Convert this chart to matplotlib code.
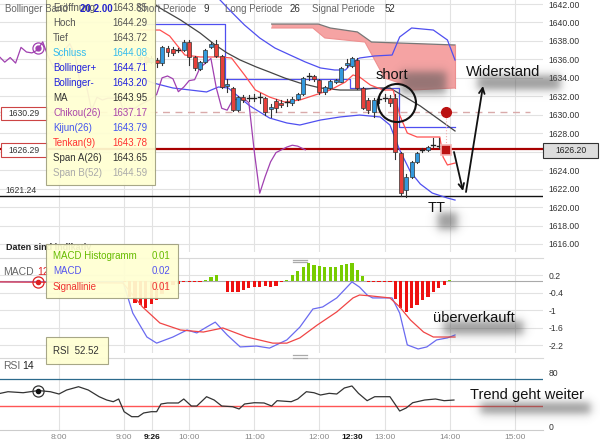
import numpy as np
import matplotlib
matplotlib.use("Agg")
import matplotlib.pyplot as plt
from matplotlib.patches import Rectangle, Ellipse, FancyArrowPatch

plt.rcParams['font.family'] = ['Liberation Sans', 'DejaVu Sans']

# ---------------- data ----------------
bar_times = ["9:15", "9:20", "9:25", "9:30", "9:35", "9:40", "9:45", "9:50", "9:55",
             "10:00", "10:05", "10:10", "10:15", "10:20", "10:25", "10:30", "10:35", "10:40", "10:45", "10:50", "10:55",
             "11:00", "11:05", "11:10", "11:15", "11:20", "11:25", "11:30", "11:35", "11:40", "11:45", "11:50", "11:55",
             "12:00", "12:05", "12:10", "12:15", "12:20", "12:25", "12:30", "12:35", "12:40", "12:45", "12:50", "12:55",
             "13:00", "13:05", "13:10", "13:15", "13:20", "13:25", "13:30", "13:35", "13:40", "13:45", "13:50"]
opens = [1636.0, 1636.3, 1635.7, 1635.9, 1635.6, 1637.2, 1637.1, 1636.9, 1637.0,
         1637.9, 1636.3, 1635.0, 1635.7, 1637.3, 1637.7, 1636.4, 1633.1, 1632.9, 1630.5, 1631.9, 1631.7,
         1631.8, 1631.8, 1631.8, 1630.6, 1631.5, 1631.3, 1631.3, 1631.3, 1631.7, 1632.2, 1634.1, 1634.2,
         1633.8, 1632.5, 1632.9, 1633.5, 1633.6, 1635.4, 1635.3, 1635.9, 1632.9, 1631.6, 1630.3, 1631.6,
         1631.7, 1631.8, 1631.8, 1625.9, 1621.8, 1623.3, 1624.9, 1626.1, 1626.2, 1626.6, 1626.6]
highs = [1636.6, 1636.4, 1636.4, 1636.1, 1637.5, 1637.5, 1637.3, 1637.2, 1638.1,
         1638.1, 1636.4, 1635.8, 1637.1, 1637.9, 1638.1, 1636.5, 1633.9, 1633.0, 1632.0, 1632.1, 1632.1,
         1632.3, 1632.4, 1631.9, 1631.2, 1631.7, 1631.6, 1631.7, 1631.9, 1632.4, 1634.1, 1634.5, 1634.3,
         1633.9, 1633.1, 1633.8, 1633.9, 1635.2, 1636.0, 1636.3, 1636.1, 1633.0, 1631.8, 1631.8, 1632.0,
         1632.3, 1632.1, 1632.3, 1626.0, 1623.6, 1625.0, 1626.0, 1626.4, 1626.6, 1627.5, 1627.5]
lows = [1635.8, 1635.5, 1635.6, 1635.2, 1635.4, 1636.4, 1636.5, 1636.8, 1636.9,
        1635.4, 1634.9, 1634.9, 1635.6, 1637.2, 1636.3, 1632.9, 1632.5, 1630.4, 1630.4, 1631.4, 1631.5,
        1631.5, 1631.3, 1630.0, 1629.8, 1630.3, 1630.8, 1630.9, 1631.1, 1631.6, 1632.1, 1633.8, 1633.7,
        1632.3, 1632.3, 1632.8, 1633.4, 1633.5, 1635.2, 1635.2, 1632.8, 1630.6, 1630.2, 1629.8, 1631.3,
        1631.5, 1631.0, 1625.2, 1621.2, 1621.1, 1623.2, 1624.8, 1626.0, 1626.1, 1626.5, 1626.4]
closes = [1636.3, 1635.7, 1636.2, 1635.6, 1637.3, 1636.8, 1636.7, 1637.0, 1637.9,
          1636.3, 1635.1, 1635.7, 1637.0, 1637.7, 1636.4, 1633.0, 1633.3, 1630.5, 1631.9, 1631.6, 1631.8,
          1631.8, 1631.9, 1630.3, 1630.8, 1630.7, 1631.1, 1631.4, 1631.7, 1632.2, 1634.0, 1634.2, 1633.9,
          1632.5, 1633.0, 1633.7, 1633.8, 1635.1, 1635.6, 1636.1, 1632.9, 1630.7, 1630.5, 1631.6, 1631.7,
          1631.8, 1631.3, 1626.0, 1621.5, 1623.3, 1624.9, 1625.9, 1626.2, 1626.5, 1626.7, 1626.6]
last_time = "13:57"
last_price = 1626.20
chikou_shift_min = 130          # 26 bars of 5 minutes
crosshair_time = "7:41"

level_dashed = 1630.29
level_red = 1626.29
level_black = 1621.24

bb_up_t = ["10:24", "10:39", "10:51", "11:05", "11:19", "11:33", "11:47", "12:01", "12:14", "12:24",
           "12:30", "12:37", "12:51", "13:07", "13:14", "13:25", "13:45", "13:58", "14:05"]
bb_up_v = [1642.98, 1641.13, 1639.72, 1638.32, 1637.23, 1636.47, 1635.72, 1635.07, 1634.85, 1634.85,
           1635.61, 1636.15, 1636.37, 1636.47, 1638.43, 1639.40, 1639.18, 1638.10, 1635.93]
bb_lo_t = ["9:15", "9:27", "9:45", "10:01", "10:16", "10:27", "10:36", "10:47", "10:56", "11:05", "11:14",
           "11:30", "11:42", "12:01", "12:19", "12:37", "12:56", "13:05", "13:14", "13:24", "13:33", "13:44",
           "13:58", "14:05"]
bb_lo_v = [1633.98, 1633.44, 1632.90, 1632.68, 1632.47, 1633.01, 1632.90, 1631.82, 1630.95, 1630.30, 1629.65,
           1629.11, 1628.89, 1629.43, 1629.76, 1629.97, 1629.76, 1628.89, 1626.18, 1623.80, 1622.50, 1621.52,
           1620.98, 1620.76]
ma_t = ["9:28", "9:33", "9:52", "10:10", "10:24", "10:35", "10:47", "11:02", "11:14", "11:28", "11:42",
        "12:01", "12:19", "12:37", "12:51", "13:05", "13:33", "14:05"]
ma_v = [1642.00, 1641.57, 1640.27, 1638.86, 1637.56, 1636.69, 1635.93, 1635.17, 1634.63, 1633.98, 1633.44,
        1632.90, 1632.68, 1632.68, 1632.90, 1632.90, 1630.95, 1628.24]
tenkan_t = ["9:15", "9:33", "9:42", "9:56", "10:10", "10:28", "10:39", "10:51", "11:01", "11:14", "11:28",
            "11:42", "11:56", "12:10", "12:24", "12:31", "12:37", "12:47", "12:59", "13:08", "13:14", "13:21",
            "13:30", "13:51", "13:54", "13:58", "14:05"]
tenkan_v = [1639.18, 1639.18, 1638.53, 1636.47, 1636.26, 1636.26, 1636.15, 1634.31, 1632.68, 1631.92, 1631.38,
            1631.60, 1632.14, 1632.68, 1633.55, 1634.31, 1634.09, 1633.22, 1632.68, 1632.68, 1629.97, 1628.02,
            1627.59, 1627.59, 1625.42, 1624.56, 1624.77]
kijun_t = ["9:15", "10:33", "12:28", "13:13", "14:05"]
kijun_v = [1639.83, 1633.87, 1632.90, 1628.67, 1628.67]
span_top_t = ["11:16", "11:59", "12:10", "12:35", "12:48", "14:05"]
span_top_v = [1639.83, 1639.83, 1639.40, 1638.97, 1637.88, 1637.56]
span_bot_t = ["11:16", "11:54", "12:05", "12:42", "12:51", "13:00", "13:14", "13:25", "14:05"]
span_bot_v = [1639.40, 1639.40, 1638.32, 1637.88, 1635.93, 1633.98, 1633.44, 1632.68, 1632.90]

macd_t = ["7:06", "8:59", "9:08", "9:21", "9:30", "9:45", "9:58", "10:07", "10:16", "10:24", "10:35", "10:47",
          "11:02", "11:14", "11:30", "11:42", "11:54", "12:03", "12:16", "12:30", "12:37", "12:44", "12:49",
          "13:07", "13:14", "13:21", "13:31", "13:39", "13:48", "13:58", "14:05"]
macd_v = [-0.03, -0.03, -1.10, -1.92, -2.13, -1.92, -1.68, -1.78, -1.58, -1.41, -1.85, -2.26,
          -2.23, -2.30, -2.02, -1.58, -0.96, -0.89, -0.58, -0.03, -0.21, -0.48, -0.58,
          -0.58, -1.10, -2.19, -2.33, -2.26, -2.02, -1.95, -1.85]
signal_t = ["7:06", "8:59", "9:17", "9:33", "9:52", "10:13", "10:31", "10:53", "11:17", "11:30", "11:42",
            "11:58", "12:16", "12:31", "12:37", "12:47", "13:05", "13:14", "13:24", "13:36", "13:45", "13:58", "14:05"]
signal_v = [-0.03, -0.07, -0.89, -1.44, -1.68, -1.75, -1.61, -1.92, -2.13, -2.13, -1.95,
            -1.51, -1.06, -0.58, -0.48, -0.51, -0.58, -0.89, -1.34, -1.75, -1.92, -1.92, -1.92]
hist_t = ["9:00", "9:05", "9:10", "9:15", "9:20", "9:25", "9:30", "9:35", "9:40", "9:45", "9:50", "9:55",
          "10:00", "10:05", "10:10", "10:15", "10:20", "10:25", "10:30", "10:35", "10:40", "10:45", "10:50", "10:55",
          "11:00", "11:05", "11:10", "11:15", "11:20", "11:25", "11:30", "11:35", "11:40", "11:45", "11:50", "11:55",
          "12:00", "12:05", "12:10", "12:15", "12:20", "12:25", "12:30", "12:35", "12:40", "12:45", "12:50", "12:55",
          "13:00", "13:05", "13:10", "13:15", "13:20", "13:25", "13:30", "13:35", "13:40", "13:45", "13:50", "13:55",
          "14:00"]
hist_v = [-0.05, -0.54, -0.77, -0.82, -0.94, -0.80, -0.65, -0.45, -0.25, -0.12, -0.10, -0.05,
          -0.02, -0.04, -0.04, 0.04, 0.12, 0.20, 0.00, -0.37, -0.37, -0.37, -0.30, -0.25,
          -0.20, -0.20, -0.18, -0.20, -0.18, -0.05, 0.02, 0.20, 0.35, 0.49, 0.60, 0.55,
          0.52, 0.49, 0.47, 0.47, 0.55, 0.57, 0.60, 0.39, 0.16, -0.03, -0.04, -0.04,
          -0.04, -0.05, -0.60, -0.94, -1.05, -0.94, -0.82, -0.65, -0.54, -0.37, -0.25, -0.14,
          0.05]

rsi_t = ["7:06", "7:13", "7:27", "7:41", "7:52", "8:00", "8:07", "8:18", "8:27", "8:37", "8:44", "8:50", "8:55",
         "9:00", "9:07", "9:13", "9:18", "9:25", "9:30", "9:34", "9:40", "9:50", "9:55", "10:02", "10:07", "10:16",
         "10:23", "10:30", "10:40", "10:46", "10:51", "11:00", "11:09", "11:16", "11:21", "11:34", "11:40", "11:48",
         "11:55", "12:01", "12:09", "12:16", "12:23", "12:30", "12:36", "12:44", "12:51", "13:01", "13:05", "13:14",
         "13:20", "13:26", "13:37", "13:47", "13:55", "14:04"]
rsi_v = [48.4, 50.8, 49.3, 52.5, 50.8, 47.4, 53.3, 58.2, 53.3, 43.4, 38.5, 36.0, 40.0,
         21.2, 13.8, 13.8, 19.3, 21.2, 21.2, 32.6, 34.1, 34.1, 40.0, 29.6, 29.6, 43.4,
         38.5, 29.6, 28.6, 25.2, 32.6, 34.5, 34.1, 29.6, 37.5, 36.0, 40.0, 50.8,
         49.3, 45.9, 48.4, 47.4, 56.3, 59.3, 48.4, 37.5, 43.4, 43.4, 43.4, 22.2,
         26.7, 34.5, 38.5, 40.0, 37.5, 38.5]
rsi_upper, rsi_lower = 70, 30

tooltip_labels = ["Eröffnung", "Hoch", "Tief", "Schluss", "Bollinger+", "Bollinger-", "MA",
                  "Chikou(26)", "Kijun(26)", "Tenkan(9)", "Span A(26)", "Span B(52)"]
tooltip_values = ["1643.85", "1644.29", "1643.72", "1644.08", "1644.71", "1643.20", "1643.95",
                  "1637.17", "1643.79", "1643.78", "1643.65", "1644.59"]
tooltip_colors = ["#555555", "#555555", "#555555", "#33bbee", "#2222dd", "#2222dd", "#333333",
                  "#aa44aa", "#4455ee", "#ff3333", "#333333", "#aaaaaa"]
macd_tip_labels = ["MACD Histogramm", "MACD", "Signallinie"]
macd_tip_values = ["0.01", "0.02", "0.01"]
macd_tip_colors = ["#66bb00", "#5555ee", "#ee3333"]
rsi_tip = "RSI  52.52"

price_ticks = [1616, 1618, 1620, 1622, 1624, 1626, 1628, 1630, 1632, 1634, 1636, 1638, 1640, 1642]
macd_ticks = [0.2, -0.4, -1, -1.6, -2.2]
macd_tick_labels = ["0.2", "-0.4", "-1", "-1.6", "-2.2"]
rsi_ticks = [80, 0]
grid_times = ["8:00", "9:00", "9:26", "10:00", "11:00", "12:00", "13:00", "14:00", "15:00"]
label_times = ["8:00", "9:00", "9:26", "10:00", "11:00", "12:00", "12:30", "13:00", "14:00", "15:00"]
bold_times = ["9:26", "12:30"]


def hrs(s):
    h, m = s.split(":")
    return int(h) + int(m) / 60.0


def H_(lst):
    return np.array([hrs(s) for s in lst])


# ---------------- layout ----------------
W, H = 600, 443
fig = plt.figure(figsize=(W / 100, H / 100), dpi=100)
fig.patch.set_facecolor("white")


def rect(x0, y0, x1, y1):
    return [x0 / W, 1 - y1 / H, (x1 - x0) / W, (y1 - y0) / H]


def fx(x):
    return x / W


def fy(y):
    return 1 - y / H


XL = (8 - 59 / 65.1, 8 + 484 / 65.1)
axp = fig.add_axes(rect(0, 0, 543, 252))
axm = fig.add_axes(rect(0, 258, 543, 353))
axr = fig.add_axes(rect(0, 358, 543, 430))
axp.set_ylim(1642 - 248 / 9.23, 1642 + 4 / 9.23)
axm.set_ylim((281 - 353) / 29.17, (281 - 258) / 29.17)
axr.set_ylim((426 - 430) / 0.675, (426 - 358) / 0.675)

for ax in (axp, axm, axr):
    ax.set_xlim(*XL)
    ax.set_facecolor("none")
    for s in ax.spines.values():
        s.set_visible(False)
    ax.tick_params(length=0)
    ax.yaxis.tick_right()
    ax.tick_params(axis="y", pad=4, labelsize=6.2, labelcolor="#333333")
    for t in grid_times:
        ax.axvline(hrs(t), color="#e2e2e2", lw=0.8, zorder=0)
axp.set_xticks([])
axm.set_xticks([])
axm.spines["top"].set_visible(True)
axm.spines["top"].set_color("#d8d8d8")
axr.spines["top"].set_visible(True)
axr.spines["top"].set_color("#d8d8d8")
axr.spines["bottom"].set_visible(True)
axr.spines["bottom"].set_color("#cccccc")

# ---- price panel ----
axp.set_yticks(price_ticks)
axp.set_yticklabels(["" if v == 1626 else f"{v:.2f}" for v in price_ticks])
for v in price_ticks:
    axp.axhline(v, color="#e2e2e2", lw=0.8, zorder=0)

# cloud
st, sv = H_(span_top_t), np.array(span_top_v)
bt, bv = H_(span_bot_t), np.array(span_bot_v)
axp.fill(np.r_[st, bt[::-1]], np.r_[sv, bv[::-1]], facecolor="#f5a3a3", edgecolor="none", zorder=1)
axp.plot(st, sv, color="#777777", lw=0.9, zorder=1.5)
axp.plot(bt, bv, color="#ee9090", lw=0.8, zorder=1.5)
axp.plot([st[-1], st[-1]], [bv[-1], sv[-1]], color="#ee9090", lw=0.8, zorder=1.5)

axp.axhline(level_dashed, xmax=530 / 543, color="#d9aaaa", lw=1.0, dashes=(5, 4), zorder=2)
axp.axhline(level_red, color="#a80000", lw=1.6, zorder=2)
axp.axhline(level_black, color="#111111", lw=1.0, zorder=2)

axp.plot(H_(bb_up_t), bb_up_v, color="#4f4ff0", lw=0.9, zorder=3)
axp.plot(H_(bb_lo_t), bb_lo_v, color="#4f4ff0", lw=0.9, zorder=3)
axp.plot(H_(kijun_t), kijun_v, color="#4f4ff0", lw=0.9, drawstyle="steps-post", zorder=3)
axp.plot(H_(ma_t), ma_v, color="#444444", lw=0.9, zorder=3)
axp.plot(H_(tenkan_t), tenkan_v, color="#ff5050", lw=0.9, zorder=3)

bt_h = H_(bar_times)
ch_t = np.r_[bt_h, hrs(last_time)] - chikou_shift_min / 60.0
ch_v = np.r_[closes, last_price]
axp.plot(ch_t, ch_v, color="#a040b0", lw=0.9, zorder=3)
cx = hrs(crosshair_time)
cy = np.interp(cx, ch_t, ch_v)
axp.plot([cx], [cy], "o", ms=8, mfc="none", mec="#a040b0", mew=0.9, zorder=4)
axp.plot([cx], [cy], "o", ms=3.5, color="#a040b0", zorder=4)

cw = 4.0 / 65.1
for t, o, h, l, c in zip(bt_h, opens, highs, lows, closes):
    axp.plot([t, t], [l, h], color="#333333", lw=0.8, zorder=4)
    if abs(c - o) < 0.15:
        axp.plot([t - cw / 2, t + cw / 2], [c, c], color="#222222", lw=1.0, zorder=5)
    else:
        col = "#3399dd" if c > o else "#e8403a"
        axp.add_patch(Rectangle((t - cw / 2, min(o, c)), cw, abs(c - o), facecolor=col,
                                edgecolor="#333333", lw=0.5, zorder=5))

lt = hrs(last_time)
axp.plot([lt, lt], [level_dashed, last_price], color="#f0b0b0", lw=0.8, ls=":", zorder=5)
axp.plot([lt], [level_dashed], "o", ms=7, color="#bb1111", zorder=6)
axp.plot([lt], [last_price], "s", ms=7, mfc="#bb1111", mec="#f5b5b5", mew=1.2, zorder=6)

# ---- MACD panel ----
axm.set_yticks(macd_ticks)
axm.set_yticklabels(macd_tick_labels)
for v in macd_ticks:
    axm.axhline(v, color="#e2e2e2", lw=0.8, zorder=0)
axm.axhline(0, color="#aaaaaa", lw=0.8, zorder=1)
hv = np.array(hist_v)
axm.bar(H_(hist_t), hv, width=3.2 / 65.1, color=np.where(hv >= 0, "#77cc00", "#ee1111"), zorder=2)
axm.plot(H_(macd_t), macd_v, color="#6a6af0", lw=0.9, zorder=3)
axm.plot(H_(signal_t), signal_v, color="#f04545", lw=0.9, zorder=3)
my = np.interp(cx, H_(signal_t), signal_v)
axm.plot([cx], [my], "o", ms=8, mfc="none", mec="#dd2222", mew=0.9, zorder=4)
axm.plot([cx], [my], "o", ms=3, color="#dd2222", zorder=4)

# ---- RSI panel ----
axr.set_yticks(rsi_ticks)
axr.set_yticklabels([str(v) for v in rsi_ticks])
axr.axhline(rsi_upper, color="#2b6a8c", lw=0.9, zorder=1)
axr.axhline(rsi_lower, color="#ff5555", lw=1.0, zorder=1)
axr.plot(H_(rsi_t), rsi_v, color="#333333", lw=0.9, zorder=3)
ry = np.interp(cx, H_(rsi_t), rsi_v)
axr.plot([cx], [ry], "o", ms=8, mfc="none", mec="#333333", mew=0.9, zorder=4)
axr.plot([cx], [ry], "o", ms=3, color="#111111", zorder=4)
axr.set_xticks(H_(label_times))
axr.set_xticklabels(label_times)
axr.tick_params(axis="x", labelsize=6, pad=3)
for lab, t in zip(axr.get_xticklabels(), label_times):
    if t in bold_times:
        lab.set_color("#111111")
        lab.set_fontweight("bold")
    else:
        lab.set_color("#888888")

# ---------------- overlays (figure coordinates) ----------------
def ftext(x, y, s, **kw):
    kw.setdefault("va", "center")
    fig.text(fx(x), fy(y), s, **kw)


def fbox(x0, y0, x1, y1, **kw):
    fig.patches.append(Rectangle((fx(x0), fy(y1)), (x1 - x0) / W, (y1 - y0) / H,
                                 transform=fig.transFigure, **kw))


def shadow(x0, y0, x1, y1, blur=5.0, alpha=0.6):
    pad = blur * 2.5
    a = fig.add_axes(rect(x0 - pad, y0 - pad, x1 + pad, y1 + pad), zorder=0.5)
    a.axis("off")
    nx, ny = int(x1 - x0 + 2 * pad), int(y1 - y0 + 2 * pad)
    xs, ys = np.arange(nx) + 0.5, np.arange(ny) + 0.5
    s = blur / 2.0
    ex = 1 / (1 + np.exp(-(xs - pad) / s)) / (1 + np.exp((xs - (nx - pad)) / s))
    ey = 1 / (1 + np.exp(-(ys - pad) / s)) / (1 + np.exp((ys - (ny - pad)) / s))
    img = np.zeros((ny, nx, 4))
    img[..., :3] = 0.33
    img[..., 3] = np.outer(ey, ex) * alpha
    a.imshow(img, extent=(0, 1, 0, 1), aspect="auto", interpolation="bilinear")
    a.set_xlim(0, 1)
    a.set_ylim(0, 1)


# left price labels
fbox(0.5, 107, 47, 120, facecolor="white", edgecolor="#cc4444", lw=0.8, zorder=2)
ftext(24, 113.5, f"{level_dashed:.2f}", ha="center", fontsize=6.2, color="#333333", zorder=2.5)
fbox(0.5, 143, 47, 157, facecolor="white", edgecolor="#cc4444", lw=0.8, zorder=2)
ftext(24, 150, f"{level_red:.2f}", ha="center", fontsize=6.2, color="#333333", zorder=2.5)
ftext(5, 190, f"{level_black:.2f}", ha="left", fontsize=6.2, color="#333333")
# right price box
fbox(543, 143, 598, 158, facecolor="#dddddd", edgecolor="#333333", lw=0.8, zorder=2)
ftext(571, 150.5, f"{last_price:.2f}", ha="center", fontsize=6.2, color="#222222", zorder=2.5)

# panel labels
ftext(6, 247, "Daten sind indikativ", ha="left", fontsize=6.5, fontweight="bold", color="#222222")
ftext(3, 272, "MACD", ha="left", fontsize=7.5, color="#666666")
ftext(37, 272, "12", ha="left", fontsize=7.5, color="#dd2222")
ftext(3, 366, "RSI", ha="left", fontsize=7.5, color="#666666")
ftext(22, 366, "14", ha="left", fontsize=7.5, color="#222222")
for yy in (259.5, 262):
    fig.lines.append(plt.Line2D([fx(293), fx(307)], [fy(yy), fy(yy)], transform=fig.transFigure,
                                color="#aaaaaa", lw=0.9))
for yy in (355, 357.5):
    fig.lines.append(plt.Line2D([fx(293), fx(307)], [fy(yy), fy(yy)], transform=fig.transFigure,
                                color="#aaaaaa", lw=0.9))

# tooltips
fbox(46, -2, 155, 185, facecolor="#ffffd2", edgecolor="#a0a080", lw=0.8, alpha=0.93, zorder=3.5)
for i, (lab, val, col) in enumerate(zip(tooltip_labels, tooltip_values, tooltip_colors)):
    yy = 8 + i * 15
    ftext(53, yy, lab, ha="left", fontsize=7, color=col, zorder=4)
    ftext(147, yy, val, ha="right", fontsize=7, color=col, zorder=4)
fbox(46, 244, 178, 298, facecolor="#ffffd2", edgecolor="#a0a080", lw=0.8, alpha=0.93, zorder=3.5)
for i, (lab, val, col) in enumerate(zip(macd_tip_labels, macd_tip_values, macd_tip_colors)):
    yy = 256 + i * 15.5
    ftext(53, yy, lab, ha="left", fontsize=7, color=col, zorder=4)
    ftext(170, yy, val, ha="right", fontsize=7, color=col, zorder=4)
fbox(46, 337, 108, 364, facecolor="#ffffd2", edgecolor="#a0a080", lw=0.8, alpha=0.93, zorder=3.5)
ftext(53, 351, rsi_tip, ha="left", fontsize=7, color="#333333", zorder=4)

# header
ftext(5, 9, "Bollinger Band", ha="left", fontsize=7, color="#666666", zorder=4.5)
ftext(80, 9, "20 2.00", ha="left", fontsize=7, color="#2222cc", fontweight="bold", zorder=4.5)
ftext(137, 9, "Short Periode", ha="left", fontsize=7, color="#666666", zorder=4.5)
ftext(203, 9, "9", ha="left", fontsize=7, color="#333333", zorder=4.5)
ftext(225, 9, "Long Periode", ha="left", fontsize=7, color="#666666", zorder=4.5)
ftext(290, 9, "26", ha="left", fontsize=7, color="#333333", zorder=4.5)
ftext(312, 9, "Signal Periode", ha="left", fontsize=7, color="#666666", zorder=4.5)
ftext(385, 9, "52", ha="left", fontsize=7, color="#333333", zorder=4.5)

# annotations
shadow(400, 72, 445, 94)
shadow(477, 76, 560, 90)
shadow(438, 213, 457, 230)
shadow(443, 321, 523, 334)
shadow(480, 402, 590, 413)
ftext(376, 75, "short", ha="left", fontsize=10.5, color="#111111", zorder=5)
ftext(466, 72, "Widerstand", ha="left", fontsize=10.5, color="#111111", zorder=5)
ftext(428, 208, "TT", ha="left", fontsize=10.5, color="#111111", zorder=5)
ftext(433, 318, "überverkauft", ha="left", fontsize=10.5, color="#111111", zorder=5)
ftext(470, 395, "Trend geht weiter", ha="left", fontsize=10.5, color="#111111", zorder=5)

fig.patches.append(Ellipse((fx(397), fy(103)), 38 / W, 38 / H, transform=fig.transFigure,
                           facecolor="none", edgecolor="#111111", lw=1.5, zorder=5))
for (xa, ya), (xb, yb) in [((454, 152), (463, 191)), ((466, 192), (483, 86))]:
    fig.patches.append(FancyArrowPatch((fx(xa), fy(ya)), (fx(xb), fy(yb)), transform=fig.transFigure,
                                       arrowstyle="->,head_length=4,head_width=2", color="#111111",
                                       lw=1.3, zorder=5, shrinkA=0, shrinkB=0))

fig.savefig("out.png", dpi=100)
